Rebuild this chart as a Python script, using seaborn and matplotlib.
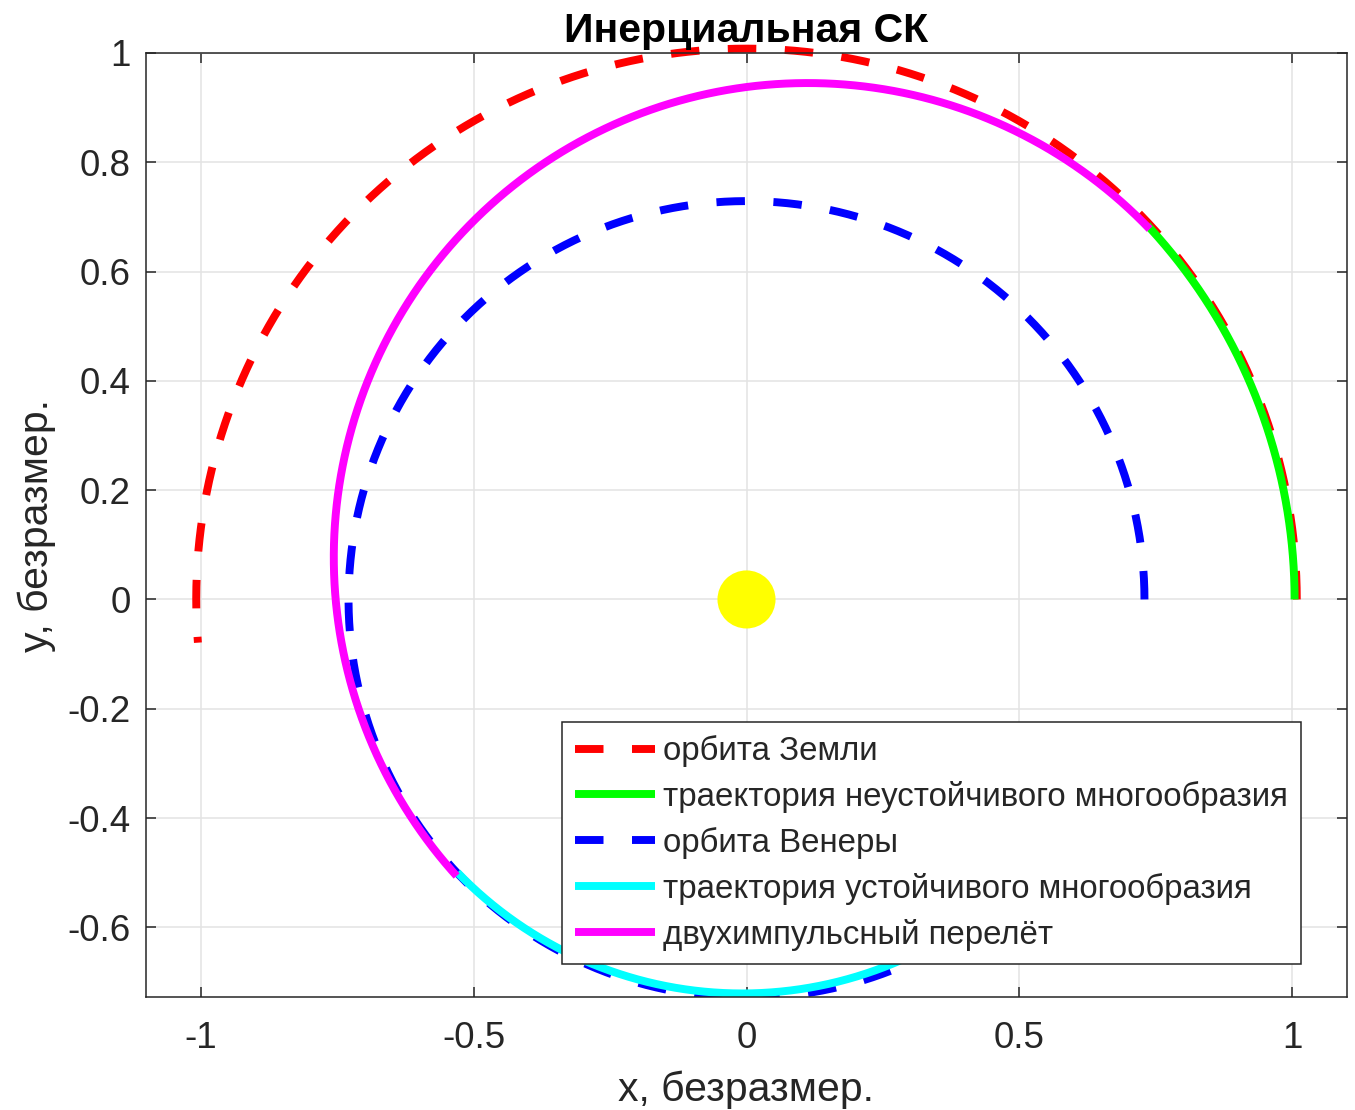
import numpy as np
import pandas as pd
import matplotlib
matplotlib.use("Agg")
import matplotlib.pyplot as plt
import seaborn as sns

# orbits and trajectories: circle centre, radius, arc range in degrees
earth_center = [0.0, 0.0]
earth_r = 1.008
earth_arc = [0.0, 184.5]

unstable_center = [0.0, 0.0]
unstable_r = 1.004
unstable_arc = [0.0, 43.0]

venus_center = [0.0, 0.0]
venus_r = 0.729
venus_arc = [0.0, 300.0]

stable_center = [-0.008, 0.004]
stable_r = 0.725
stable_arc = [224.0, 300.0]

transfer_center = [0.112, 0.077]
transfer_r = 0.868
transfer_arc = [43.8, 222.2]

sun_xy = [0.0, 0.0]

labels = ["орбита Земли", "траектория неустойчивого многообразия", "орбита Венеры",
          "траектория устойчивого многообразия", "двухимпульсный перелёт"]
xticks = [-1, -0.5, 0, 0.5, 1]
yticks = [-0.6, -0.4, -0.2, 0, 0.2, 0.4, 0.6, 0.8, 1]


def arc(center, r, deg):
    t = np.radians(np.linspace(deg[0], deg[1], 600))
    return pd.DataFrame({"x": center[0] + r * np.cos(t), "y": center[1] + r * np.sin(t)})


sns.set_style("ticks")
plt.rcParams["font.family"] = ["Liberation Sans", "DejaVu Sans"]
plt.rcParams["axes.unicode_minus"] = False

fig = plt.figure(figsize=(13.55, 11.1), dpi=100)
ax = fig.add_axes([146 / 1355, 1 - 997 / 1110, 1201 / 1355, 944 / 1110])

lw = 5.7
dash = (0, (3.6, 3.6))
sns.lineplot(data=arc(earth_center, earth_r, earth_arc), x="x", y="y", sort=False, estimator=None,
             color="#ff0000", lw=lw, linestyle=dash, label=labels[0], ax=ax, clip_on=False)
sns.lineplot(data=arc(unstable_center, unstable_r, unstable_arc), x="x", y="y", sort=False, estimator=None,
             color="#00ff00", lw=lw, solid_capstyle="butt", label=labels[1], ax=ax)
sns.lineplot(data=arc(venus_center, venus_r, venus_arc), x="x", y="y", sort=False, estimator=None,
             color="#0000ff", lw=lw, linestyle=dash, label=labels[2], ax=ax)
sns.lineplot(data=arc(stable_center, stable_r, stable_arc), x="x", y="y", sort=False, estimator=None,
             color="#00ffff", lw=lw, solid_capstyle="butt", label=labels[3], ax=ax)
sns.lineplot(data=arc(transfer_center, transfer_r, transfer_arc), x="x", y="y", sort=False, estimator=None,
             color="#ff00ff", lw=lw, solid_capstyle="butt", label=labels[4], ax=ax)
sns.scatterplot(x=[sun_xy[0]], y=[sun_xy[1]], s=41.8 ** 2, color="#ffff00", edgecolor="none",
                ax=ax, legend=False, zorder=3)

ax.set_xlim(-1.1, 1.1)
ax.set_ylim(-0.7275, 1.0)
ax.set_xticks(xticks)
ax.set_yticks(yticks)
ax.set_xticklabels(["-1", "-0.5", "0", "0.5", "1"])
ax.set_yticklabels(["-0.6", "-0.4", "-0.2", "0", "0.2", "0.4", "0.6", "0.8", "1"])
ax.grid(True, color="#e3e3e3", lw=1.1)
ax.set_axisbelow(True)
ax.tick_params(direction="in", length=7, width=1.1, colors="#262626", labelsize=26.5,
               top=True, right=True)
ax.tick_params(axis="x", pad=17)
ax.tick_params(axis="y", pad=11)
for s in ax.spines.values():
    s.set_visible(True)
    s.set_color("#262626")
    s.set_linewidth(1.1)

ax.set_xlabel("x, безразмер.", fontsize=29.5, color="#262626", labelpad=11)
ax.set_ylabel("y, безразмер.", fontsize=29.5, color="#262626", labelpad=8)
ax.set_title("Инерциальная СК", fontsize=29.5, fontweight="bold", color="black", pad=8)

leg = ax.legend(loc="upper left", bbox_to_anchor=(562 / 1355, 1 - 722 / 1110),
                bbox_transform=fig.transFigure, borderaxespad=0, fontsize=23.8,
                frameon=True, fancybox=False, framealpha=1, edgecolor="#262626",
                handlelength=2.4, handletextpad=0.25, labelspacing=0.42, borderpad=0.4)
leg.get_frame().set_linewidth(1.1)
leg.set_zorder(10)

fig.savefig("out.png", dpi=100)
